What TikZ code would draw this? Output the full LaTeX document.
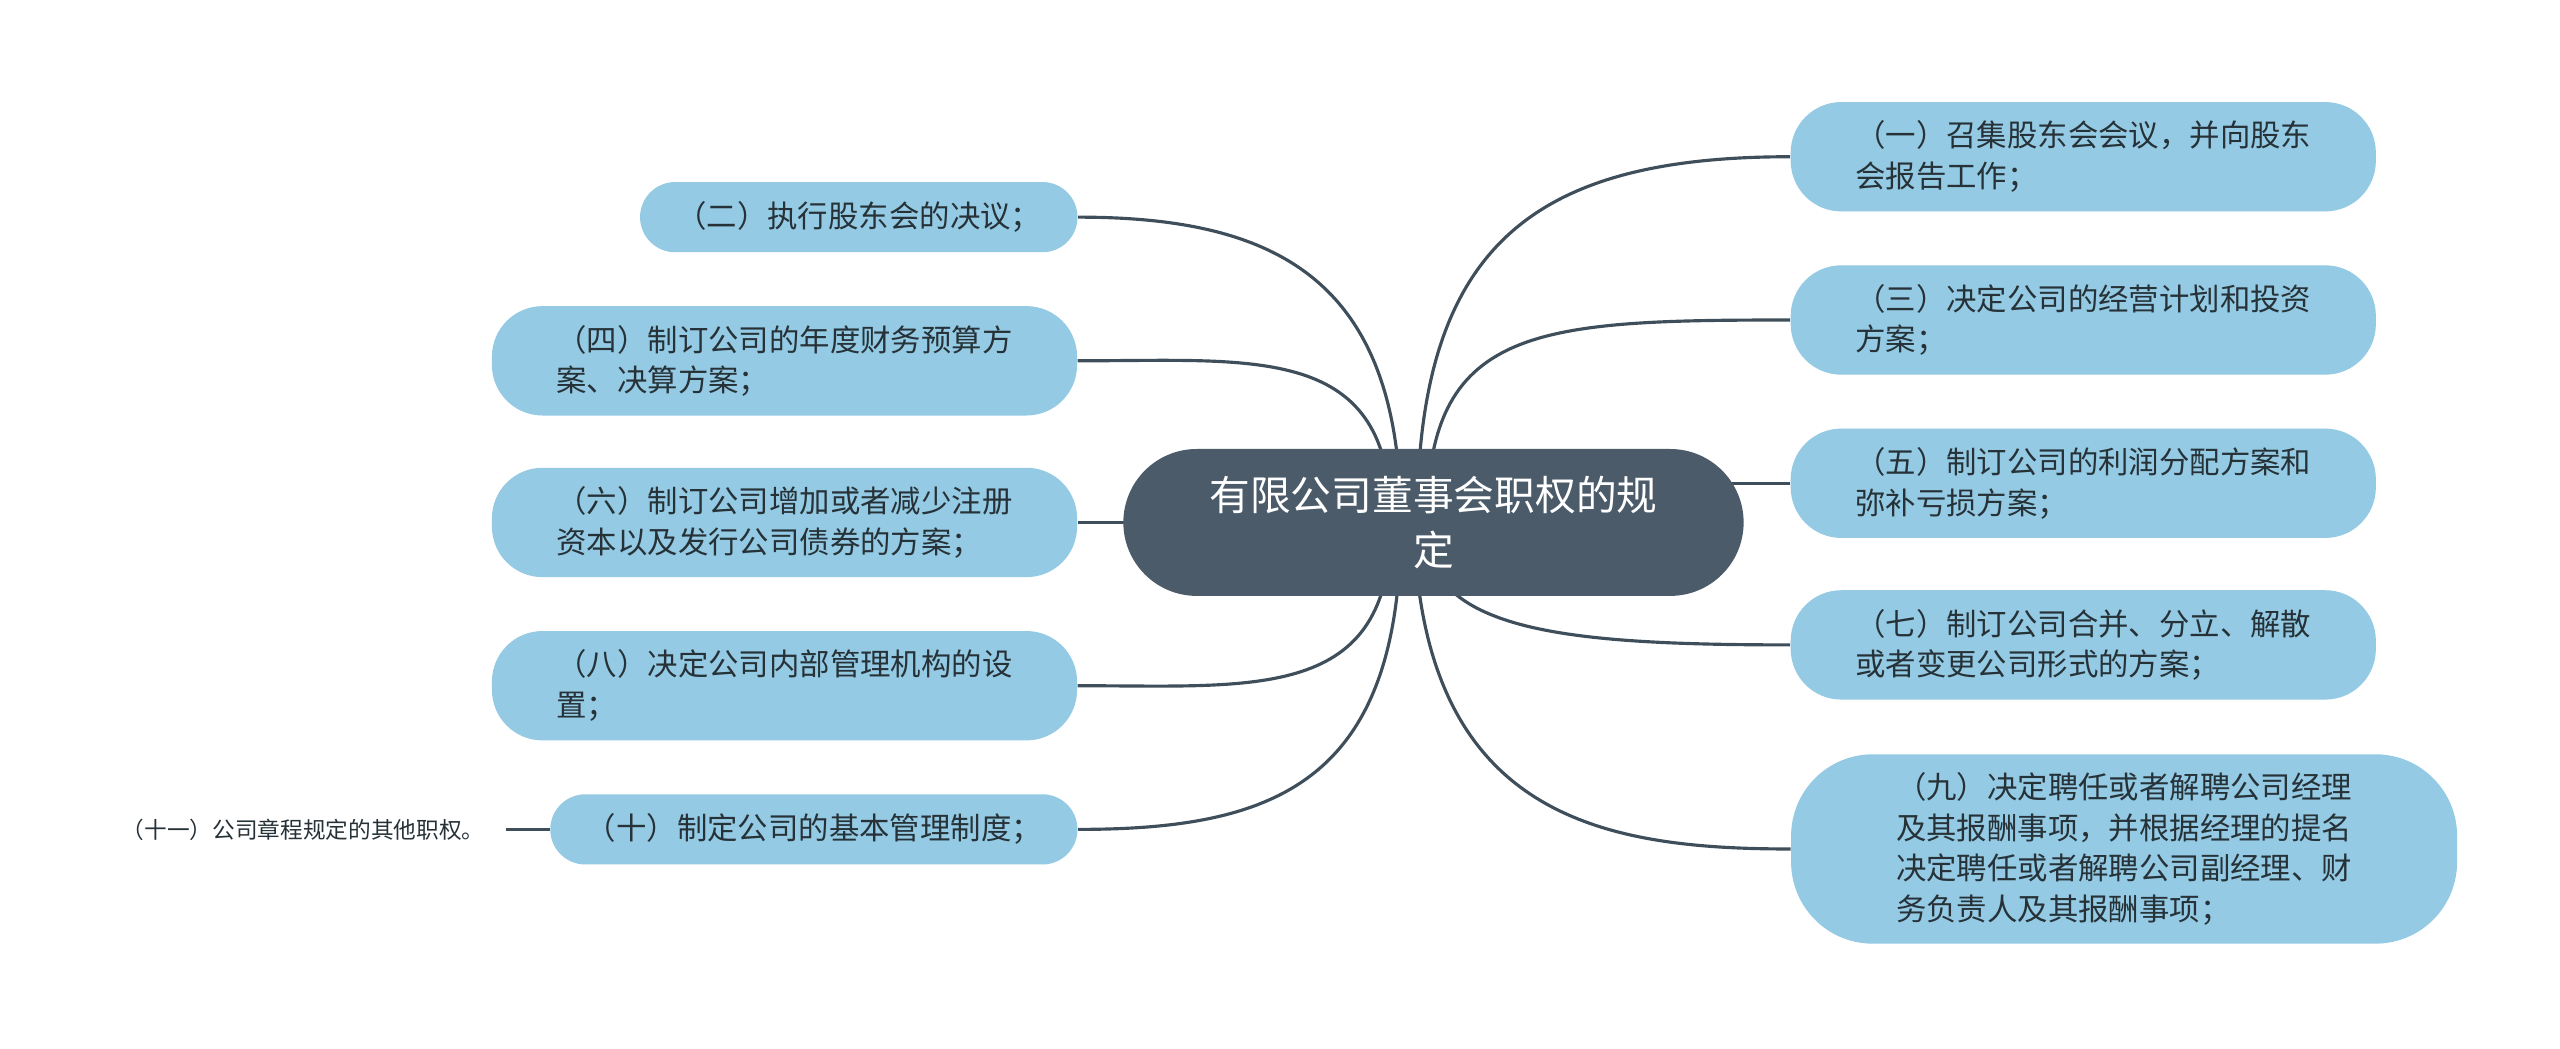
\documentclass[tikz,border=0pt]{standalone}
\usepackage{fontspec}
\setmainfont{Noto Sans CJK SC}
\usetikzlibrary{backgrounds,calc}
\definecolor{slate}{HTML}{4B5B69}
\definecolor{skyfill}{HTML}{94CAE3}
\definecolor{inkdark}{HTML}{263238}
\definecolor{linkcol}{HTML}{3F4E5B}

\begin{document}
\begin{tikzpicture}[x=0.02cm, y=-0.02cm,
    rootnd/.style={fill=slate, text=white, rounded corners=0.9cm, minimum width=7.6cm, minimum height=1.8cm, align=center, font=\fontsize{14.2pt}{19.3pt}\selectfont},
    leafnd/.style={fill=skyfill, text=inkdark, align=left, inner sep=2pt, font=\fontsize{10.6pt}{14.2pt}\selectfont},
    twoline/.style={leafnd, minimum width=7.17cm, minimum height=1.34cm, rounded corners=0.62cm},
    oneline/.style={leafnd, minimum height=0.86cm, rounded corners=0.43cm},
    link/.style={linkcol, line width=1.1pt}]
  \useasboundingbox (0,0) rectangle (1568,642);
  % centre
  \node[rootnd] (root) at (878,320) {有限公司董事会职权的规\\定};
  % right side
  \node[twoline] (r1) at (1276,96) {（一）召集股东会会议，并向股东\\会报告工作；};
  \node[twoline] (r3) at (1276,196) {（三）决定公司的经营计划和投资\\方案；};
  \node[twoline] (r5) at (1276,296) {（五）制订公司的利润分配方案和\\弥补亏损方案；};
  \node[twoline] (r7) at (1276,395) {（七）制订公司合并、分立、解散\\或者变更公司形式的方案；};
  \node[leafnd, minimum width=8.16cm, minimum height=2.32cm, rounded corners=1cm] (r9) at (1301,520)
    {（九）决定聘任或者解聘公司经理\\及其报酬事项，并根据经理的提名\\决定聘任或者解聘公司副经理、财\\务负责人及其报酬事项；};
  % left side
  \node[oneline, minimum width=5.36cm] (l2) at (526,133) {（二）执行股东会的决议；};
  \node[twoline] (l4) at (480.5,221) {（四）制订公司的年度财务预算方\\案、决算方案；};
  \node[twoline] (l6) at (480.5,320) {（六）制订公司增加或者减少注册\\资本以及发行公司债券的方案；};
  \node[twoline] (l8) at (480.5,420) {（八）决定公司内部管理机构的设\\置；};
  \node[oneline, minimum width=6.46cm] (l10) at (498.5,508) {（十）制定公司的基本管理制度；};
  \node[anchor=east, inner xsep=0.26cm, text=inkdark, font=\fontsize{7.9pt}{10pt}\selectfont] (l11) at (310,508) {（十一）公司章程规定的其他职权。};
  % connectors
  \begin{pgfonlayer}{background}
    \draw[link] ($(root.center)+(-10,0)$) .. controls +(0,-170) and +(-157,0) .. (r1.west);
    \draw[link] ($(root.center)+(-4,0)$) .. controls +(0,-120) and +(-157,0) .. (r3.west);
    \draw[link] (r5.west -| root.center) -- (r5.west);
    \draw[link] ($(root.center)+(-6,0)$) .. controls +(0,65) and +(-147,0) .. (r7.west);
    \draw[link] ($(root.center)+(-12,0)$) .. controls +(4,180) and +(-117,0) .. (r9.west);
    \draw[link] ($(root.center)+(-20,0)$) .. controls +(0,-150) and +(120,0) .. (l2.east);
    \draw[link] ($(root.center)+(-26,0)$) .. controls +(0,-110) and +(110,0) .. (l4.east);
    \draw[link] (root.center) -- (l6.east);
    \draw[link] ($(root.center)+(-26,0)$) .. controls +(0,110) and +(110,0) .. (l8.east);
    \draw[link] ($(root.center)+(-20,0)$) .. controls +(0,160) and +(120,0) .. (l10.east);
  \end{pgfonlayer}
  \draw[link, line width=1.3pt] (l11.east) -- (l10.west);
\end{tikzpicture}
\end{document}
